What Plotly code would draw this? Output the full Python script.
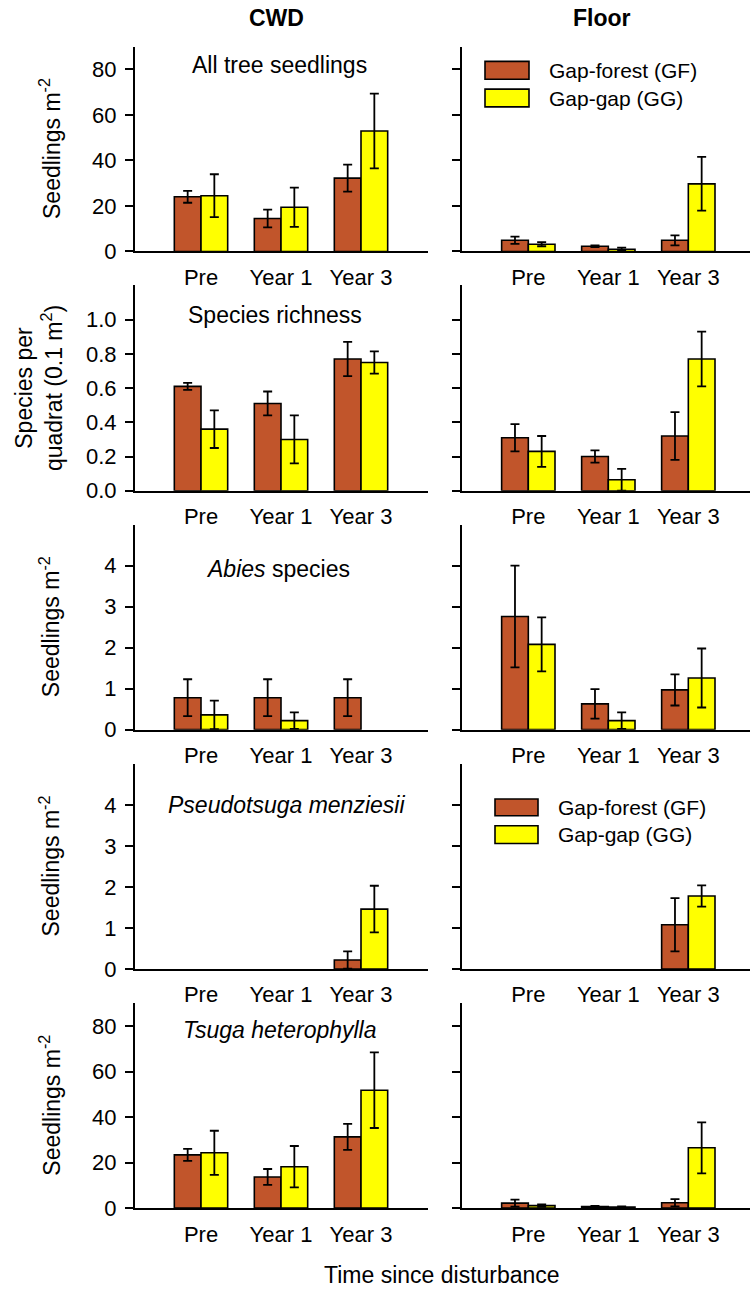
import plotly.graph_objects as go
from plotly.subplots import make_subplots

W, H = 750, 1305

categories = ["Pre", "Year 1", "Year 3"]

# All tree seedlings (seedlings m-2)
cwd_all_gf = [24.0, 14.5, 32.2]
cwd_all_gf_se = [2.6, 3.9, 5.9]
cwd_all_gg = [24.5, 19.4, 52.9]
cwd_all_gg_se = [9.4, 8.6, 16.4]
floor_all_gf = [4.9, 2.3, 4.9]
floor_all_gf_se = [1.6, 0.4, 2.2]
floor_all_gg = [3.2, 1.0, 29.7]
floor_all_gg_se = [0.9, 0.7, 11.8]

# Species richness (species per 0.1 m2 quadrat)
cwd_rich_gf = [0.61, 0.51, 0.77]
cwd_rich_gf_se = [0.02, 0.07, 0.10]
cwd_rich_gg = [0.36, 0.30, 0.75]
cwd_rich_gg_se = [0.11, 0.14, 0.065]
floor_rich_gf = [0.31, 0.20, 0.32]
floor_rich_gf_se = [0.08, 0.036, 0.14]
floor_rich_gg = [0.23, 0.064, 0.77]
floor_rich_gg_se = [0.09, 0.064, 0.16]

# Abies species
cwd_abies_gf = [0.78, 0.78, 0.78]
cwd_abies_gf_se = [0.45, 0.45, 0.45]
cwd_abies_gg = [0.36, 0.22, None]
cwd_abies_gg_se = [0.35, 0.20, 0]
floor_abies_gf = [2.76, 0.63, 0.97]
floor_abies_gf_se = [1.24, 0.36, 0.38]
floor_abies_gg = [2.08, 0.22, 1.26]
floor_abies_gg_se = [0.66, 0.20, 0.72]

# Pseudotsuga menziesii
cwd_psme_gf = [None, None, 0.22]
cwd_psme_gf_se = [0, 0, 0.21]
cwd_psme_gg = [None, None, 1.46]
cwd_psme_gg_se = [0, 0, 0.57]
floor_psme_gf = [None, None, 1.08]
floor_psme_gf_se = [0, 0, 0.65]
floor_psme_gg = [None, None, 1.78]
floor_psme_gg_se = [0, 0, 0.26]

# Tsuga heterophylla
cwd_tshe_gf = [23.4, 13.7, 31.3]
cwd_tshe_gf_se = [2.6, 3.5, 5.7]
cwd_tshe_gg = [24.3, 18.2, 51.8]
cwd_tshe_gg_se = [9.7, 9.1, 16.6]
floor_tshe_gf = [2.2, 0.7, 2.4]
floor_tshe_gf_se = [1.5, 0.3, 1.6]
floor_tshe_gg = [1.1, 0.5, 26.5]
floor_tshe_gg_se = [0.5, 0.3, 11.2]

rows = [
    dict(cwd=(cwd_all_gf, cwd_all_gf_se, cwd_all_gg, cwd_all_gg_se),
         floor=(floor_all_gf, floor_all_gf_se, floor_all_gg, floor_all_gg_se),
         yrange=[0, 90], tickvals=[0, 20, 40, 60, 80], ticktext=["0", "20", "40", "60", "80"],
         label="All tree seedlings", ytitle="Seedlings m<sup>-2</sup>"),
    dict(cwd=(cwd_rich_gf, cwd_rich_gf_se, cwd_rich_gg, cwd_rich_gg_se),
         floor=(floor_rich_gf, floor_rich_gf_se, floor_rich_gg, floor_rich_gg_se),
         yrange=[0, 1.2], tickvals=[0, 0.2, 0.4, 0.6, 0.8, 1.0],
         ticktext=["0.0", "0.2", "0.4", "0.6", "0.8", "1.0"],
         label="Species richness", ytitle="Species per<br>quadrat (0.1 m<sup>2</sup>)"),
    dict(cwd=(cwd_abies_gf, cwd_abies_gf_se, cwd_abies_gg, cwd_abies_gg_se),
         floor=(floor_abies_gf, floor_abies_gf_se, floor_abies_gg, floor_abies_gg_se),
         yrange=[0, 5], tickvals=[0, 1, 2, 3, 4], ticktext=["0", "1", "2", "3", "4"],
         label="<i>Abies</i> species", ytitle="Seedlings m<sup>-2</sup>"),
    dict(cwd=(cwd_psme_gf, cwd_psme_gf_se, cwd_psme_gg, cwd_psme_gg_se),
         floor=(floor_psme_gf, floor_psme_gf_se, floor_psme_gg, floor_psme_gg_se),
         yrange=[0, 5], tickvals=[0, 1, 2, 3, 4], ticktext=["0", "1", "2", "3", "4"],
         label="<i>Pseudotsuga menziesii</i>", ytitle="Seedlings m<sup>-2</sup>"),
    dict(cwd=(cwd_tshe_gf, cwd_tshe_gf_se, cwd_tshe_gg, cwd_tshe_gg_se),
         floor=(floor_tshe_gf, floor_tshe_gf_se, floor_tshe_gg, floor_tshe_gg_se),
         yrange=[0, 90], tickvals=[0, 20, 40, 60, 80], ticktext=["0", "20", "40", "60", "80"],
         label="<i>Tsuga heterophylla</i>", ytitle="Seedlings m<sup>-2</sup>"),
]

GF_COLOR = "#C1552B"
GG_COLOR = "#FFFF00"
FONT = "Liberation Sans, Arial, sans-serif"
FS = 22


def px_x(x):
    return x / W


def px_y(y):
    return 1 - y / H


# panel geometry in pixels
row_tops = [47, 288.3, 530, 771.7, 1013.3]
row_bots = [254, 495.7, 737, 978.7, 1220.3]
col_x = [(135, 428), (462, 750)]
col_range = [[-0.825, 2.8375], [-0.829, 2.771]]
label_y = [66, 318, 575, 813, 1040]
label_x = [279, 275, 278, 286, 280]

fig = make_subplots(rows=5, cols=2)

err_style = dict(type="data", color="black", thickness=1.8, width=4.5, visible=True)

for r, spec in enumerate(rows):
    for c, key in enumerate(["cwd", "floor"]):
        gf, gf_se, gg, gg_se = spec[key]
        fig.add_trace(go.Bar(x=categories, y=gf, name="Gap-forest (GF)",
                             marker=dict(color=GF_COLOR, line=dict(color="black", width=1.6)),
                             error_y=dict(array=gf_se, **err_style), showlegend=False),
                      row=r + 1, col=c + 1)
        fig.add_trace(go.Bar(x=categories, y=gg, name="Gap-gap (GG)",
                             marker=dict(color=GG_COLOR, line=dict(color="black", width=1.6)),
                             error_y=dict(array=gg_se, **err_style), showlegend=False),
                      row=r + 1, col=c + 1)
        n = r * 2 + c + 1
        sfx = "" if n == 1 else str(n)
        fig.layout["xaxis" + sfx].update(
            domain=[px_x(col_x[c][0]), px_x(col_x[c][1])],
            range=col_range[c], type="category",
            showline=True, linecolor="black", linewidth=2,
            ticks="", showgrid=False, zeroline=False,
            tickfont=dict(family=FONT, size=FS, color="black"),
            ticklabelstandoff=5,
        )
        fig.layout["yaxis" + sfx].update(
            domain=[px_y(row_bots[r]), px_y(row_tops[r])],
            range=spec["yrange"], tickvals=spec["tickvals"], ticktext=spec["ticktext"],
            showline=True, linecolor="black", linewidth=2,
            ticks="outside", ticklen=8, tickwidth=2, tickcolor="black",
            showgrid=False, zeroline=False, showticklabels=(c == 0),
            tickfont=dict(family=FONT, size=FS, color="black"),
            ticklabelstandoff=4,
        )

annotations = []
for r, spec in enumerate(rows):
    annotations.append(dict(x=px_x(label_x[r]), y=px_y(label_y[r]), xref="paper", yref="paper",
                            text=spec["label"], showarrow=False, xanchor="center", yanchor="middle",
                            font=dict(family=FONT, size=FS + 1, color="black")))
    cy = (row_tops[r] + row_bots[r]) / 2
    annotations.append(dict(x=px_x(39 if r == 1 else 50), y=px_y(cy), xref="paper", yref="paper",
                            text=spec["ytitle"], showarrow=False, textangle=-90,
                            xanchor="center", yanchor="middle",
                            font=dict(family=FONT, size=FS + 1, color="black")))

annotations += [
    dict(x=px_x(276), y=px_y(18), xref="paper", yref="paper", text="<b>CWD</b>", showarrow=False,
         xanchor="center", yanchor="middle", font=dict(family=FONT, size=FS + 1, color="black")),
    dict(x=px_x(602), y=px_y(18), xref="paper", yref="paper", text="<b>Floor</b>", showarrow=False,
         xanchor="center", yanchor="middle", font=dict(family=FONT, size=FS + 1, color="black")),
    dict(x=px_x(442), y=px_y(1288), xref="paper", yref="paper", text="Time since disturbance",
         showarrow=False, xanchor="center", yanchor="middle",
         font=dict(family=FONT, size=FS + 1, color="black")),
]

# legend swatches and labels (rows 1 and 4, Floor column)
shapes = []
legend_specs = [
    (485, 529, [(62, 80, GF_COLOR, "Gap-forest (GF)"), (90, 108, GG_COLOR, "Gap-gap (GG)")], 547),
    (495, 538, [(807, 824, GF_COLOR, "Gap-forest (GF)"), (834, 852, GG_COLOR, "Gap-gap (GG)")], 556),
]
for x0, x1, items, tx in legend_specs:
    for y0, y1, col, txt in items:
        shapes.append(dict(type="rect", xref="paper", yref="paper",
                           x0=px_x(x0), x1=px_x(x1), y0=px_y(y1), y1=px_y(y0),
                           fillcolor=col, line=dict(color="black", width=1.6)))
        annotations.append(dict(x=px_x(tx), y=px_y((y0 + y1) / 2), xref="paper", yref="paper",
                                text=txt, showarrow=False, xanchor="left", yanchor="middle",
                                font=dict(family=FONT, size=21, color="black")))

fig.update_layout(
    width=W, height=H,
    margin=dict(l=0, r=0, t=0, b=0),
    paper_bgcolor="white", plot_bgcolor="white",
    barmode="group", bargap=0.333, bargroupgap=0,
    annotations=annotations, shapes=shapes,
    showlegend=False,
    font=dict(family=FONT, size=FS, color="black"),
)

fig.write_html("out.html")
